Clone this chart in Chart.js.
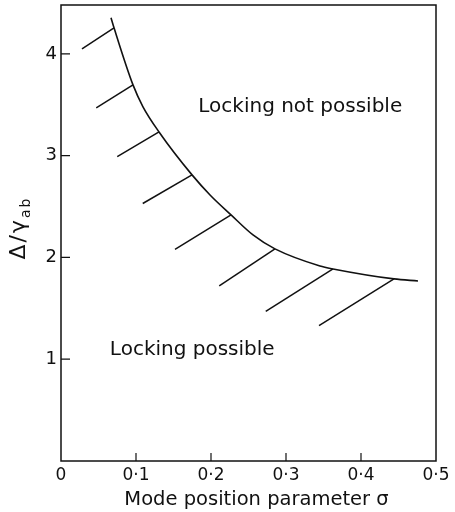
<!DOCTYPE html>
<html>
<head>
<meta charset="utf-8">
<script src="https://cdn.jsdelivr.net/npm/chart.js@4"></script>
<style>
  html, body { margin: 0; padding: 0; background: #fff; }
  #wrap { width: 455px; height: 512px; }
</style>
</head>
<body>
<div id="wrap"><canvas id="chart"></canvas></div>
<script>
// ── Data ─────────────────────────────────────────────────────
const curveSigma = [0.0667, 0.0707, 0.096, 0.1093, 0.1307, 0.1747, 0.1987,
                    0.2267, 0.256, 0.2853, 0.3453, 0.3627, 0.444, 0.476];
const curveDelta = [4.354, 4.256, 3.695, 3.48, 3.233, 2.811, 2.614,
                    2.418, 2.221, 2.084, 1.916, 1.887, 1.789, 1.769];

// hatch marks: foot on the curve, tip down-left
const hatchFootSigma = [0.0707, 0.096, 0.1307, 0.1747, 0.2267, 0.2853, 0.3627, 0.444];
const hatchFootDelta = [4.256, 3.695, 3.233, 2.811, 2.418, 2.084, 1.887, 1.789];
const hatchTipSigma  = [0.028, 0.047, 0.075, 0.109, 0.152, 0.211, 0.273, 0.344];
const hatchTipDelta  = [4.05, 3.47, 2.99, 2.53, 2.08, 1.72, 1.47, 1.33];

const xTicks = [0, 0.1, 0.2, 0.3, 0.4, 0.5];
const yTicks = [1, 2, 3, 4];

const notes = ['Locking not possible', 'Locking possible'];
const noteSigma = [0.319, 0.175];
const noteDelta = [3.48, 1.09];
const xTitle = 'Mode position parameter σ';

const INK = '#111';
const FONT = 'DejaVu Sans';

// ── Datasets ─────────────────────────────────────────────────
const curve = {
  data: curveSigma.map((s, i) => ({ x: s, y: curveDelta[i] })),
  showLine: true,
  borderColor: INK,
  borderWidth: 1.6,
  pointRadius: 0,
  cubicInterpolationMode: 'monotone',
};

const hatches = hatchTipSigma.map((s, i) => ({
  data: [
    { x: hatchFootSigma[i], y: hatchFootDelta[i] },
    { x: s, y: hatchTipDelta[i] },
  ],
  showLine: true,
  borderColor: INK,
  borderWidth: 1.5,
  pointRadius: 0,
}));

// ── Frame, inward ticks, notes, axis titles ──────────────────
const decor = {
  id: 'decor',
  afterDatasetsDraw(chart) {
    const { ctx, chartArea: a, scales: { x, y } } = chart;
    ctx.save();
    ctx.strokeStyle = INK;
    ctx.lineWidth = 1.5;
    ctx.strokeRect(a.left, a.top, a.right - a.left, a.bottom - a.top);

    ctx.lineWidth = 1.2;
    ctx.beginPath();
    xTicks.slice(1, -1).forEach(v => {
      const px = x.getPixelForValue(v);
      ctx.moveTo(px, a.bottom);
      ctx.lineTo(px, a.bottom - 8);
    });
    yTicks.forEach(v => {
      const py = y.getPixelForValue(v);
      ctx.moveTo(a.left, py);
      ctx.lineTo(a.left + 9, py);
    });
    ctx.stroke();

    ctx.fillStyle = INK;
    ctx.font = `20px "${FONT}"`;
    ctx.textAlign = 'center';
    ctx.textBaseline = 'middle';
    notes.forEach((t, i) => {
      ctx.fillText(t, x.getPixelForValue(noteSigma[i]), y.getPixelForValue(noteDelta[i]));
    });

    // x title, a little right of centre like the original lettering
    ctx.font = `19.5px "${FONT}"`;
    ctx.fillText(xTitle, (a.left + a.right) / 2 + 8, 500);

    // Δ/γ_ab, rotated
    ctx.translate(19, 228);
    ctx.rotate(-Math.PI / 2);
    ctx.textAlign = 'left';
    ctx.letterSpacing = '2px';
    ctx.font = `22px "${FONT}"`;
    const main = 'Δ/γ';
    const wMain = ctx.measureText(main).width;
    ctx.font = `14px "${FONT}"`;
    const wSub = ctx.measureText('ab').width;
    const x0 = -(wMain + wSub) / 2;
    ctx.font = `22px "${FONT}"`;
    ctx.fillText(main, x0, 0);
    ctx.font = `14px "${FONT}"`;
    ctx.fillText('ab', x0 + wMain, 7);
    ctx.restore();
  }
};

new Chart(document.getElementById('chart'), {
  type: 'scatter',
  data: { datasets: [curve, ...hatches] },
  options: {
    responsive: true,
    maintainAspectRatio: false,
    animation: false,
    layout: { padding: { top: 5, right: 19, left: 0, bottom: 0 } },
    plugins: { legend: { display: false }, tooltip: { enabled: false } },
    scales: {
      x: {
        type: 'linear',
        min: 0, max: 0.5,
        grid: { display: false, drawTicks: false },
        border: { display: false },
        afterBuildTicks: s => { s.ticks = xTicks.map(v => ({ value: v })); },
        afterFit: s => { s.height = 51; s.paddingLeft = 0; s.paddingRight = 0; },
        ticks: {
          color: INK,
          font: { family: FONT, size: 17 },
          padding: 4,
          maxRotation: 0,
          callback: v => v === 0 ? '0' : v.toFixed(1).replace('.', '·'),
        },
      },
      y: {
        type: 'linear',
        min: 0, max: 4.48,
        grid: { display: false, drawTicks: false },
        border: { display: false },
        afterBuildTicks: s => { s.ticks = yTicks.map(v => ({ value: v })); },
        afterFit: s => { s.width = 61; s.paddingTop = 0; s.paddingBottom = 0; },
        ticks: {
          color: INK,
          font: { family: FONT, size: 18 },
          padding: 4,
          callback: v => String(v),
        },
      },
    },
  },
  plugins: [decor],
});
</script>
</body>
</html>
